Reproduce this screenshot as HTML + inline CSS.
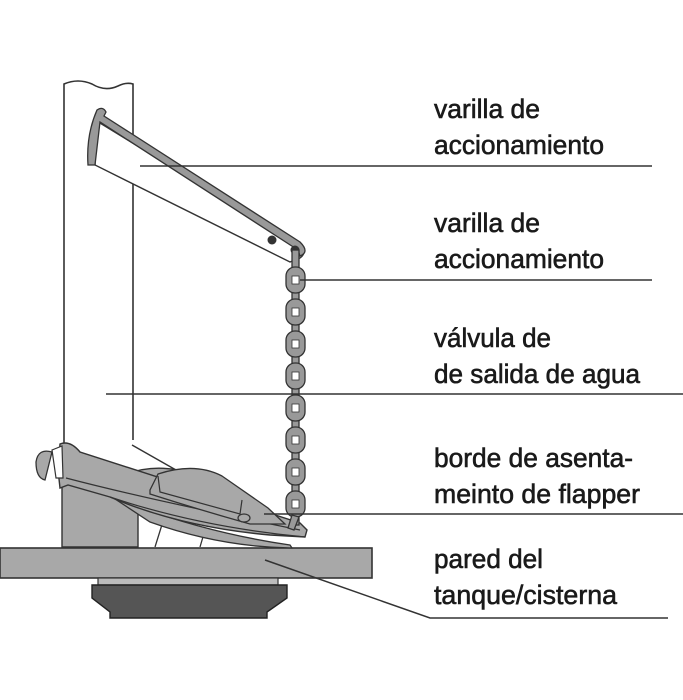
<!DOCTYPE html>
<html><head><meta charset="utf-8"><style>
html,body{margin:0;padding:0;background:#fff;}
svg{display:block}
text{font-family:"Liberation Sans Narrow","Liberation Sans",sans-serif;font-size:27px;fill:#1a1a1a;stroke:#1a1a1a;stroke-width:0.6;}
</style></head><body>
<svg width="683" height="700" viewBox="0 0 683 700" xmlns="http://www.w3.org/2000/svg">
<rect width="683" height="700" fill="#fff"/>
<!-- pipe -->
<path d="M64 445 L64 84 Q78 78 92 84 Q105 92 118 86 Q126 82 133 84 L133 440" fill="#fff" stroke="#333" stroke-width="1.6"/>
<line x1="132" y1="445" x2="176" y2="470" stroke="#333" stroke-width="1.4"/>
<!-- arm -->
<path d="M95 120 L300 245 Q308 252 300 258 L290 262 L95 165 Z" fill="#fff" stroke="#333" stroke-width="1.4"/>
<path d="M97 110 Q103 106 106 112 L104 116 L300 242 Q310 252 300 256 L298 250 L100 122 L95 165 L88 165 Q86 135 97 110 Z" fill="#999" stroke="#333" stroke-width="1.3"/>
<circle cx="272" cy="240" r="4.5" fill="#333"/>
<circle cx="295" cy="250" r="4.5" fill="#333"/>
<!-- floor plate -->
<rect x="0" y="548" width="372" height="30" fill="#a8a8a8" stroke="#333" stroke-width="1.6"/>
<rect x="98" y="578" width="180" height="7" fill="#bbb" stroke="#333" stroke-width="1.2"/>
<path d="M92 585 L287 585 L287 598 L267 612 L267 618 L110 618 L110 612 L92 598 Z" fill="#555" stroke="#222" stroke-width="1.4"/>
<!-- left block -->
<path d="M62 547 L62 478 L138 500 L138 547 Z" fill="#a8a8a8" stroke="#333" stroke-width="1.4"/>
<line x1="155" y1="547" x2="165" y2="515" stroke="#333" stroke-width="1.3"/>
<line x1="200" y1="547" x2="205" y2="530" stroke="#333" stroke-width="1.3"/>
<!-- back dome -->
<path d="M118 478 Q145 464 178 470 L205 495 L130 495 Z" fill="#a8a8a8" stroke="#333" stroke-width="1.3"/>
<!-- lower seal -->
<path d="M112 497 Q200 532 290 545 L292 548 Q220 547 150 522 Z" fill="#a8a8a8" stroke="#333" stroke-width="1.3"/>
<!-- flapper body -->
<path d="M60 444 Q70 440 80 452 L300 523 L307 530 L305 537 L270 535 Q180 527 110 497 L68 485 L60 488 L58 470 Z" fill="#a8a8a8" stroke="#333" stroke-width="1.4"/>
<path d="M66 478 Q150 500 300 530" fill="none" stroke="#333" stroke-width="1.2"/>
<path d="M110 497 Q200 527 305 537" fill="none" stroke="#333" stroke-width="1.2"/>
<!-- top dome -->
<path d="M150 490 L158 474 Q195 462 222 476 Q245 492 268 508 L285 524 L250 524 Q200 510 150 494 Z" fill="#a8a8a8" stroke="#333" stroke-width="1.3"/>
<path d="M158 476 L160 492 Q200 503 240 514 L242 500" fill="none" stroke="#333" stroke-width="1.2"/>
<ellipse cx="244" cy="518" rx="6" ry="4" fill="#a8a8a8" stroke="#333" stroke-width="1.2"/>
<!-- hinge -->
<path d="M52 452 Q38 448 36 462 Q36 478 45 480 L48 468 Z" fill="#a8a8a8" stroke="#333" stroke-width="1.3"/>
<path d="M52 450 L62 446 L63 478 L56 478 Z" fill="#fff" stroke="#333" stroke-width="1.2"/>
<!-- chain -->
<g stroke="#333" stroke-width="1.3">
<rect x="292" y="250" width="7" height="275" fill="#999"/>
<g fill="#999">
<rect x="286" y="267" width="19" height="26" rx="9"/>
<rect x="286" y="299" width="19" height="26" rx="9"/>
<rect x="286" y="331" width="19" height="26" rx="9"/>
<rect x="286" y="363" width="19" height="26" rx="9"/>
<rect x="286" y="395" width="19" height="26" rx="9"/>
<rect x="286" y="427" width="19" height="26" rx="9"/>
<rect x="286" y="459" width="19" height="26" rx="9"/>
<rect x="286" y="491" width="19" height="26" rx="9"/>
</g>
<g fill="#fff" stroke-width="0.8">
<rect x="292" y="276" width="7" height="8"/><rect x="292" y="308" width="7" height="8"/>
<rect x="292" y="340" width="7" height="8"/><rect x="292" y="372" width="7" height="8"/>
<rect x="292" y="404" width="7" height="8"/><rect x="292" y="436" width="7" height="8"/>
<rect x="292" y="468" width="7" height="8"/><rect x="292" y="500" width="7" height="8"/>
</g>
<path d="M292 515 L299 517 L294 530 L288 528 Z" fill="#999"/>
</g>
<!-- leader lines -->
<g stroke="#333" stroke-width="1.5" fill="none">
<line x1="140" y1="166" x2="652" y2="166"/>
<line x1="300" y1="280" x2="652" y2="280"/>
<line x1="106" y1="394" x2="683" y2="394"/>
<line x1="264" y1="514" x2="683" y2="514"/>
<polyline points="265,560 430,618 668,618"/>
</g>
<!-- labels -->
<text x="434" y="118" textLength="106" lengthAdjust="spacingAndGlyphs">varilla de</text>
<text x="434" y="154" textLength="170" lengthAdjust="spacingAndGlyphs">accionamiento</text>
<text x="434" y="232" textLength="106" lengthAdjust="spacingAndGlyphs">varilla de</text>
<text x="434" y="268" textLength="170" lengthAdjust="spacingAndGlyphs">accionamiento</text>
<text x="434" y="347" textLength="117" lengthAdjust="spacingAndGlyphs">válvula de</text>
<text x="434" y="383" textLength="206" lengthAdjust="spacingAndGlyphs">de salida de agua</text>
<text x="434" y="467" textLength="199" lengthAdjust="spacingAndGlyphs">borde de asenta-</text>
<text x="434" y="503" textLength="206" lengthAdjust="spacingAndGlyphs">meinto de flapper</text>
<text x="434" y="568" textLength="109" lengthAdjust="spacingAndGlyphs">pared del</text>
<text x="434" y="604" textLength="183" lengthAdjust="spacingAndGlyphs">tanque/cisterna</text>
</svg>
</body></html>
